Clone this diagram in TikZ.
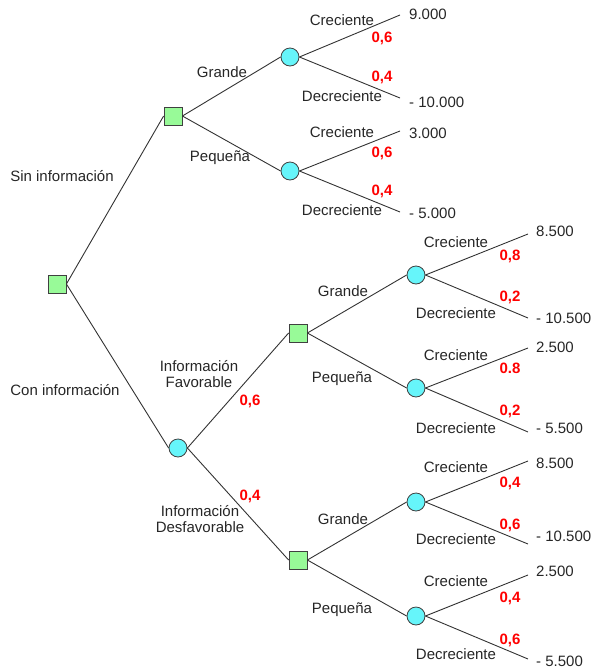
\documentclass[tikz,border=0pt]{standalone}
\usepackage{fontspec}
\setmainfont{Liberation Sans}
\begin{document}
\begin{tikzpicture}[x=1pt,y=-1pt,
  every node/.style={font=\fontsize{15}{17}\selectfont, text=black!85},
  dec/.style={draw=black!75, fill={rgb,255:red,152;green,250;blue,152}, rectangle, minimum size=18pt, inner sep=0pt, line width=0.8pt},
  cha/.style={draw=black!75, fill={rgb,255:red,102;green,245;blue,250}, circle, minimum size=18pt, inner sep=0pt, line width=0.8pt},
  br/.style={draw=black!80, line width=0.9pt},
  prob/.style={font=\fontsize{15}{17}\selectfont\bfseries, text=red},
  lbl/.style={align=center, inner sep=0pt},
  val/.style={anchor=west, inner sep=0pt}]
\useasboundingbox (0,0) rectangle (595,670);
% nodes
\node[dec] (root) at (57,284) {};
\node[dec] (d1) at (173,116) {};
\node[cha] (c1) at (290,57) {};
\node[cha] (c2) at (290,171) {};
\node[cha] (ci) at (178,448) {};
\node[dec] (d2) at (298,333) {};
\node[dec] (d3) at (298,560) {};
\node[cha] (c3) at (416,275) {};
\node[cha] (c4) at (416,388) {};
\node[cha] (c5) at (416,502) {};
\node[cha] (c6) at (416,616) {};
% end points
\coordinate (e1) at (400,15);
\coordinate (e2) at (400,98);
\coordinate (e3) at (400,131);
\coordinate (e4) at (400,212);
\coordinate (e5) at (528,234);
\coordinate (e6) at (528,318);
\coordinate (e7) at (528,348);
\coordinate (e8) at (528,432);
\coordinate (e9) at (528,461);
\coordinate (e10) at (528,544);
\coordinate (e11) at (528,575);
\coordinate (e12) at (528,659);
% branches
\draw[br] (root.east) -- (d1.west);
\draw[br] (root.east) -- (ci.west);
\draw[br] (d1.east) -- (c1.west);
\draw[br] (d1.east) -- (c2.west);
\draw[br] (ci.east) -- (d2.west);
\draw[br] (ci.east) -- (d3.west);
\draw[br] (d2.east) -- (c3.west);
\draw[br] (d2.east) -- (c4.west);
\draw[br] (d3.east) -- (c5.west);
\draw[br] (d3.east) -- (c6.west);
\draw[br] (c1.east) -- (e1);
\draw[br] (c1.east) -- (e2);
\draw[br] (c2.east) -- (e3);
\draw[br] (c2.east) -- (e4);
\draw[br] (c3.east) -- (e5);
\draw[br] (c3.east) -- (e6);
\draw[br] (c4.east) -- (e7);
\draw[br] (c4.east) -- (e8);
\draw[br] (c5.east) -- (e9);
\draw[br] (c5.east) -- (e10);
\draw[br] (c6.east) -- (e11);
\draw[br] (c6.east) -- (e12);
% values
\node[val] (v1) at (409,14) {9.000};
\node[val] (v2) at (409,102) {- 10.000};
\node[val] (v3) at (409,133) {3.000};
\node[val] (v4) at (409,213) {- 5.000};
\node[val] (v5) at (536,231) {8.500};
\node[val] (v6) at (536,318) {- 10.500};
\node[val] (v7) at (536,347) {2.500};
\node[val] (v8) at (536,428) {- 5.500};
\node[val] (v9) at (536,463) {8.500};
\node[val] (v10) at (536,536) {- 10.500};
\node[val] (v11) at (536,571) {2.500};
\node[val] (v12) at (536,661) {- 5.500};
% left labels
\node[lbl] (ls) at (62,176) {Sin información};
\node[lbl] (lc) at (65,390) {Con información};
\node[lbl] (lf) at (199,374) {Información\\[-1pt]Favorable};
\node[lbl] (ld) at (200,519) {Información\\[-1pt]Desfavorable};
\node[prob] (pf) at (250,401) {0,6};
\node[prob] (pd) at (250,496) {0,4};
% top block
\node[lbl] (g1) at (222,72) {Grande};
\node[lbl] (q1) at (220,158) {Pequeña};
\node[lbl] (cr1) at (342,20) {Creciente};
\node[prob] (p1) at (382,38) {0,6};
\node[prob] (p2) at (382,77) {0,4};
\node[lbl] (de1) at (342,96) {Decreciente};
\node[lbl] (cr2) at (342,132) {Creciente};
\node[prob] (p3) at (382,153) {0,6};
\node[prob] (p4) at (382,191) {0,4};
\node[lbl] (de2) at (342,210) {Decreciente};
% middle block
\node[lbl] (g2) at (343,291) {Grande};
\node[lbl] (q2) at (342,379) {Pequeña};
\node[lbl] (cr3) at (456,242) {Creciente};
\node[prob] (p5) at (510,256) {0,8};
\node[prob] (p6) at (510,297) {0,2};
\node[lbl] (de3) at (456,313) {Decreciente};
\node[lbl] (cr4) at (456,355) {Creciente};
\node[prob] (p7) at (510,368) {0.8};
\node[prob] (p8) at (510,411) {0,2};
\node[lbl] (de4) at (456,428) {Decreciente};
% bottom block
\node[lbl] (g3) at (343,519) {Grande};
\node[lbl] (q3) at (342,610) {Pequeña};
\node[lbl] (cr5) at (456,467) {Creciente};
\node[prob] (p9) at (510,483) {0,4};
\node[prob] (p10) at (510,525) {0,6};
\node[lbl] (de5) at (456,539) {Decreciente};
\node[lbl] (cr6) at (456,581) {Creciente};
\node[prob] (p11) at (510,598) {0,4};
\node[prob] (p12) at (510,640) {0,6};
\node[lbl] (de6) at (456,654) {Decreciente};
\end{tikzpicture}
\end{document}
